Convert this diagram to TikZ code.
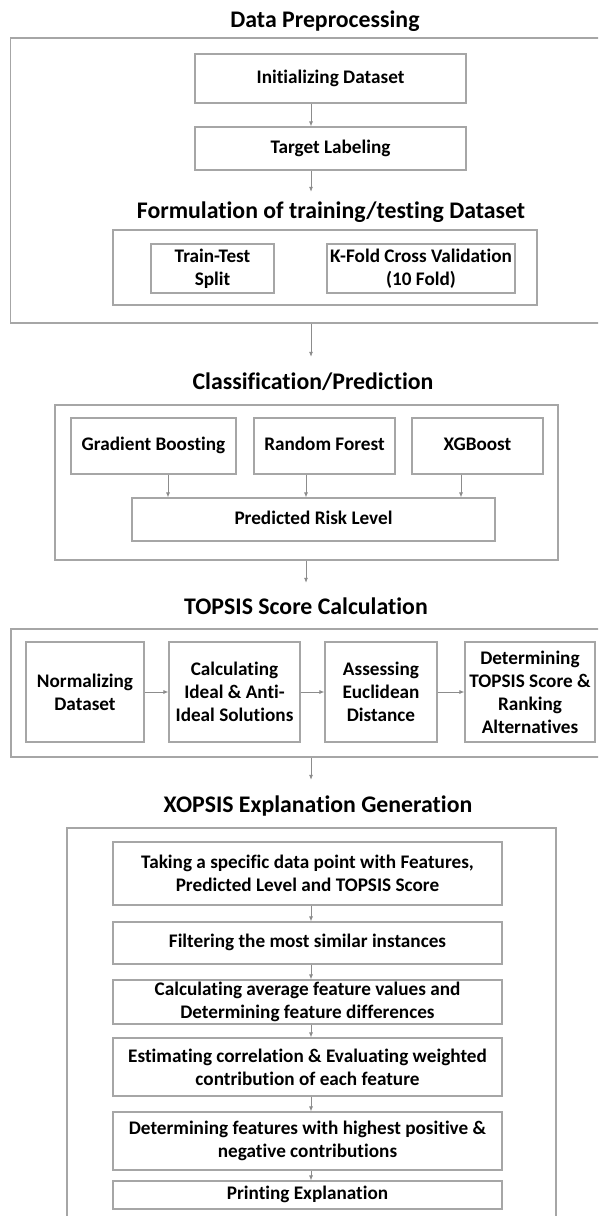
\documentclass[tikz,border=0pt]{standalone}
\usepackage{fontspec}
\setmainfont{Carlito}[Ligatures = NoCommon]
\usetikzlibrary{arrows.meta}
\definecolor{framegray}{HTML}{A6A6A6}
\definecolor{arrowgray}{HTML}{8C8C8C}
\tikzset{
    frame/.style = {draw = framegray, line width = 1.4pt, inner sep = 0pt},
    box/.style = {draw = framegray, line width = 1.2pt, align = center, inner sep = 0pt,
        font = \bfseries\fontsize{19.2}{23}\selectfont},
    one/.style = {text height = 13pt, text depth = 4pt},
    title/.style = {font = \bfseries\fontsize{23.8}{28}\selectfont, minimum height = 50pt, inner sep = 0pt},
    arr/.style = {draw = arrowgray, line width = 0.8pt, -{Latex[length = 5pt, width = 4pt]}}
}
\begin{document}
\begin{tikzpicture}[x = 1pt, y = -1pt]
        \clip (0, 0) rectangle (598, 1216);
        \fill [white] (0, 0) rectangle (598, 1216);

        \coordinate (axis) at (311, 0);
        \coordinate (axisb) at (306, 0);

        \node [title] (t1) at (325, 21) {Data Preprocessing};
        \node [frame, minimum width = 599.5pt, minimum height = 285pt] (f1) at (310.25, 180.5) {};
        \node [box, one, minimum width = 271pt, minimum height = 49pt] (init) at (330.5, 78.5) {Initializing Dataset};
        \node [box, one, minimum width = 271pt, minimum height = 43pt] (lab) at (330.5, 148.5) {Target Labeling};
        \node [title, minimum height = 40pt] (t1b) at (331, 212) {Formulation of training/testing Dataset};
        \node [frame, minimum width = 424pt, minimum height = 75pt] (f1b) at (325, 267.5) {};
        \node [box, minimum width = 123pt, minimum height = 49pt] (split) at (212.5, 268.5) {Train-Test\\Split};
        \node [box, minimum width = 188pt, minimum height = 49pt] (kfold) at (421, 268.5) {K-Fold Cross Validation\\(10 Fold)};

        \node [title] (t2) at (313, 382) {Classification/Prediction};
        \node [frame, minimum width = 503pt, minimum height = 155pt] (f2) at (306.5, 482.5) {};
        \node [box, one, minimum width = 165pt, minimum height = 56pt] (gb) at (153.5, 446) {Gradient Boosting};
        \node [box, one, minimum width = 141pt, minimum height = 56pt] (rf) at (324.5, 446) {Random Forest};
        \node [box, one, minimum width = 131pt, minimum height = 56pt] (xgb) at (477.5, 446) {XGBoost};
        \node [box, one, minimum width = 363pt, minimum height = 43pt] (risk) at (313.5, 519.5) {Predicted Risk Level};
        \coordinate (xgb1) at (168, 0);
        \coordinate (xgb2) at (306, 0);
        \coordinate (xgb3) at (461, 0);

        \node [title, minimum height = 46pt] (t3) at (306, 606) {TOPSIS Score Calculation};
        \node [frame, minimum width = 599pt, minimum height = 128pt] (f3) at (310.5, 693) {};
        \node [box, minimum width = 118pt, minimum height = 100pt] (norm) at (85, 692) {Normalizing\\Dataset};
        \node [box, minimum width = 131pt, minimum height = 100pt] (ideal) at (234.5, 692) {Calculating\\Ideal \& Anti-\\Ideal Solutions};
        \node [box, minimum width = 112pt, minimum height = 100pt] (dist) at (381, 692) {Assessing\\Euclidean\\Distance};
        \node [box, minimum width = 130pt, minimum height = 100pt] (rank) at (530, 692) {Determining\\TOPSIS Score \&\\Ranking\\Alternatives};

        \node [title, minimum height = 52pt] (t4) at (318, 806) {XOPSIS Explanation Generation};
        \node [frame, minimum width = 489pt, minimum height = 402pt] (f4) at (311.5, 1029) {};
        \node [box, minimum width = 389pt, minimum height = 63pt] (take) at (307.5, 873.5) {Taking a specific data point with Features,\\Predicted Level and TOPSIS Score};
        \node [box, one, minimum width = 389pt, minimum height = 42pt] (filt) at (307.5, 943) {Filtering the most similar instances};
        \node [box, minimum width = 389pt, minimum height = 44pt] (avg) at (307.5, 1002) {Calculating average feature values and\\Determining feature differences};
        \node [box, minimum width = 389pt, minimum height = 58pt] (corr) at (307.5, 1067) {Estimating correlation \& Evaluating weighted\\contribution of each feature};
        \node [box, minimum width = 389pt, minimum height = 58pt] (contr) at (307.5, 1141) {Determining features with highest positive \&\\negative contributions};
        \node [box, one, minimum width = 389pt, minimum height = 28pt] (print) at (307.5, 1195) {Printing Explanation};

        \draw [arr] (init.south -| axis) -- (lab.north -| axis);
        \draw [arr] (lab.south -| axis) -- (t1b.north -| axis);
        \draw [arr] (f1.south -| axis) -- (t2.north -| axis);
        \draw [arr] (gb.south -| xgb1) -- (risk.north -| xgb1);
        \draw [arr] (rf.south -| xgb2) -- (risk.north -| xgb2);
        \draw [arr] (xgb.south -| xgb3) -- (risk.north -| xgb3);
        \draw [arr] (f2.south -| axisb) -- (t3.north -| axisb);
        \draw [arr] (norm) -- (ideal);
        \draw [arr] (ideal) -- (dist);
        \draw [arr] (dist) -- (rank);
        \draw [arr] (f3.south -| axis) -- (t4.north -| axis);
        \draw [arr] (take.south -| axis) -- (filt.north -| axis);
        \draw [arr] (filt.south -| axis) -- (avg.north -| axis);
        \draw [arr] (avg.south -| axis) -- (corr.north -| axis);
        \draw [arr] (corr.south -| axis) -- (contr.north -| axis);
        \draw [arr] (contr.south -| axis) -- (print.north -| axis);
    \end{tikzpicture}
\end{document}
